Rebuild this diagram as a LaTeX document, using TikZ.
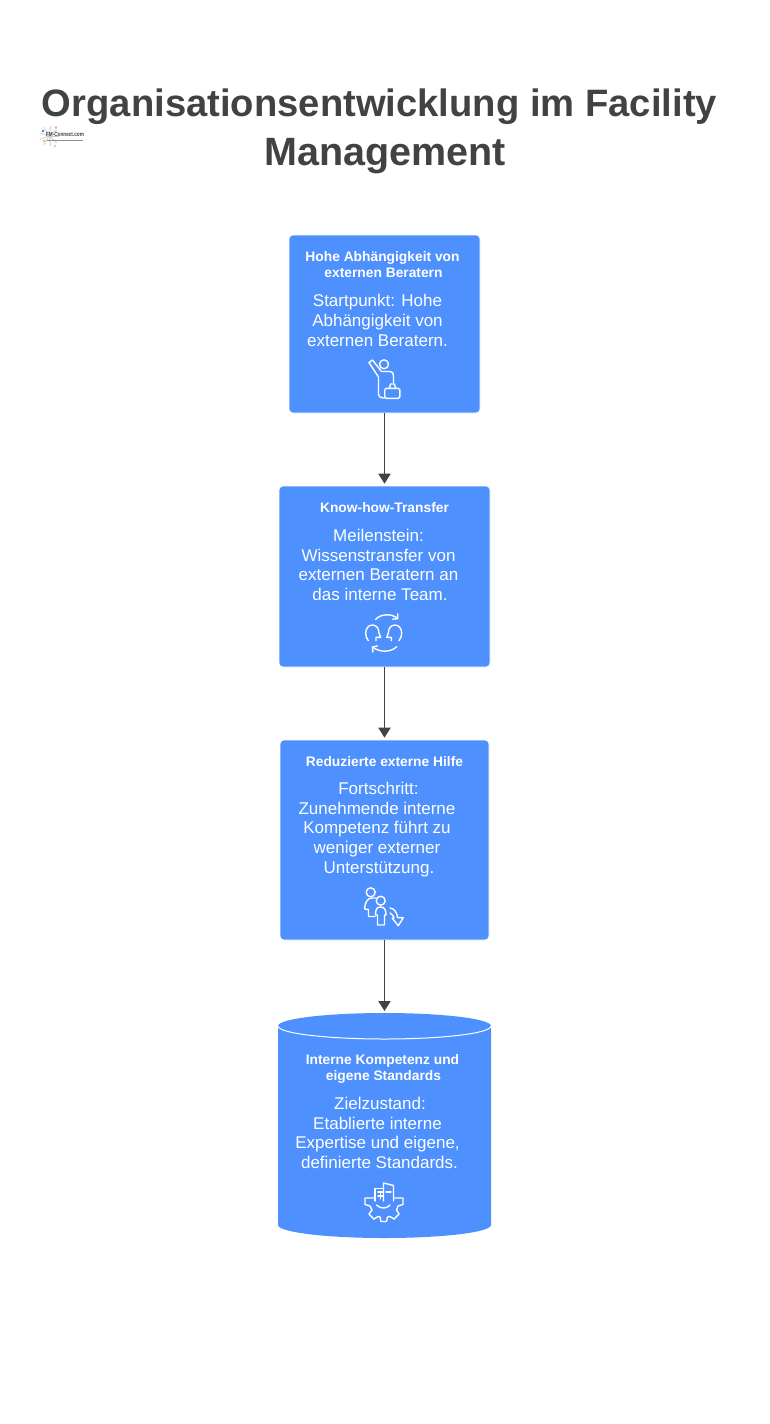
\documentclass[tikz,border=0pt]{standalone}
\usepackage{fontspec}
\setmainfont{Liberation Sans}
\newfontfamily\logofont[FakeStretch=0.78]{Liberation Sans}
\usetikzlibrary{arrows.meta}
\definecolor{boxblue}{HTML}{4D90FE}
\definecolor{inkgrey}{HTML}{424242}
\tikzset{
	box/.style={draw=white,line width=0.6pt,fill=boxblue,rounded corners=4pt},
	heading/.style={text=white,font=\fontsize{13.8}{16}\selectfont\bfseries,align=center},
	body/.style={text=white,font=\fontsize{17}{19.6}\selectfont,align=center},
	link/.style={draw=inkgrey,line width=1.9pt,shorten >=2pt,-{Triangle[length=10pt,width=12pt]}},
	icon/.style={draw=white,line width=1.4pt,line cap=round,line join=round},
	spot/.style={inner sep=0pt,minimum size=2.6pt,circle}
}
\begin{document}
\begin{tikzpicture}[x=1pt,y=-1pt]
	\useasboundingbox (0,0) rectangle (769,1424);

	% title and logo
	\node[text=inkgrey,font=\fontsize{38.2}{49}\selectfont\bfseries,align=center] (title) at (385,131.5) {Organisationsentwicklung im Facility\hspace*{11pt}\\\fontsize{39.5}{49}\selectfont Management};
	\foreach \a in {0,40,...,320}
		\draw[gray!40,line width=0.8pt] (49,136) -- ++(\a:10pt);
	\node[text=inkgrey,font=\logofont\fontsize{6}{6}\selectfont\bfseries,inner sep=0pt] (logo) at (65,134.5) {FM-Connect.com};
	\draw[inkgrey!60,line width=0.7pt] (47,140) -- (83,140);
	\node[spot,fill=blue!60!white] (dotA) at (43,131) {};
	\node[spot,fill=red!40!white] (dotB) at (56,127.5) {};
	\node[spot,fill=orange!60!white] (dotC) at (44,141) {};
	\node[spot,fill=cyan!40!white] (dotD) at (55,146) {};

	% boxes
	\node[box,minimum width=191pt,minimum height=178pt] (start) at (384.5,324) {};
	\node[box,minimum width=211pt,minimum height=181pt] (transfer) at (384.5,576.5) {};
	\node[box,minimum width=209pt,minimum height=200pt] (reduced) at (384.5,840) {};
	\fill[boxblue] (278,1026) arc[start angle=180,end angle=0,x radius=106.5pt,y radius=13pt] -- (491,1225) arc[start angle=0,end angle=-180,x radius=106.5pt,y radius=13pt] -- cycle;
	\draw[white,line width=1pt] (278,1026) arc[start angle=180,end angle=360,x radius=106.5pt,y radius=13pt];
	\coordinate (target) at (384.5,1013);

	\draw[link] (start.south) -- (transfer.north);
	\draw[link] (transfer.south) -- (reduced.north);
	\draw[link] (reduced.south) -- (target);

	% texts
	\node[heading] (h1) at (383.5,265) {Hohe Abhängigkeit von\hspace*{2pt}\\externen Beratern};
	\node[body] (b1) at (377.5,320.5) {Startpunkt: Hohe\\Abhängigkeit von\\externen Beratern.};
	\node[heading] (h2) at (384.5,507.5) {Know-how-Transfer};
	\node[body] (b2) at (378.5,565) {Meilenstein:\\Wissenstransfer von\\externen Beratern an\\\hspace*{3pt}das interne Team.};
	\node[heading] (h3) at (384.5,761.5) {Reduzierte externe Hilfe};
	\node[body] (b3) at (377,829.5) {\hspace*{3pt}Fortschritt:\\Zunehmende interne\\Kompetenz führt zu\\weniger externer\\\hspace*{4pt}Unterstützung.};
	\node[heading] (h4) at (383.5,1069) {Interne Kompetenz und\hspace*{2pt}\\eigene Standards};
	\node[body] (b4) at (377.5,1133) {\hspace*{5pt}Zielzustand:\\Etablierte interne\\Expertise und eigene,\\\hspace*{4pt}definierte Standards.};

	% icon traveller
	\draw[icon] (384,364.3) circle (4.5pt);
	\draw[icon] (369,362.5) -- (372.5,360) -- (381.5,371.5) -- (390,371.5) .. controls (392.5,371.5) and (393.5,373) .. (393.5,376) -- (393.5,383);
	\draw[icon] (369,362.5) -- (378.5,377) -- (378.5,393) .. controls (378.5,396.5) and (380,398) .. (383,398) -- (384.5,398);
	\draw[icon,rounded corners=1.5pt] (384.7,388.3) rectangle (399.8,398.3);
	\draw[icon] (389.5,388.3) -- (390.5,384) -- (394.5,384) -- (395.5,388.3);

	% icon exchange
	\draw[icon,-{Straight Barb[length=3.5pt,width=8pt]}] (375.7,619.3) .. controls (381,613.5) and (392,613.5) .. (398.3,619.3);
	\draw[icon,-{Straight Barb[length=3.5pt,width=8pt]}] (396.7,646.7) .. controls (391,652.5) and (380,652.5) .. (371.7,646.5);
	\draw[icon] (368.3,640.7) .. controls (366.5,638) and (365.7,636) .. (365.7,633.3) .. controls (365.7,628.5) and (368.5,625) .. (372.3,625) .. controls (376.5,625) and (379,628.5) .. (379,633.3) -- (380.7,637.3) -- (376,637.3) -- (376,640.7);
	\draw[icon] (399,640.7) .. controls (400.8,638) and (401.7,636) .. (401.7,633.3) .. controls (401.7,628.5) and (398.8,625) .. (395,625) .. controls (390.8,625) and (388.3,628.5) .. (388.3,633.3) -- (386.7,637.3) -- (391.3,637.3) -- (391.3,640.7);

	% icon people
	\draw[icon] (370.7,892.3) circle (4.5pt);
	\draw[icon] (380.7,900.7) circle (4.5pt);
	\draw[icon] (376,898) -- (372,898) .. controls (367,898) and (365,903) .. (364.5,909) -- (368.5,909.5) -- (368.5,916.5) -- (375,916.5);
	\draw[icon] (375.5,915) .. controls (375.5,909) and (377,907) .. (380.5,907) .. controls (384,907) and (386,909) .. (386,915) -- (384.5,915) -- (384.5,925) -- (377.5,925) -- (377.5,915) -- cycle;
	\draw[icon] (390,908) .. controls (394,908.5) and (397,912) .. (397.5,917.5) -- (403.3,917.7) -- (398.3,925.7) -- (392.3,918.3) -- (394,918) .. controls (393.5,916) and (392,914) .. (390,913);

	% icon gear
	\draw[icon] (375,1198) -- (365,1198) -- (365,1204.5) -- (370,1206) -- (372,1210) -- (369,1214) -- (374,1219) -- (378,1216.5) -- (380,1217) -- (381,1221.5) -- (386.5,1221.5) -- (387.5,1217) -- (390,1216.5) -- (394,1219) -- (399,1214) -- (396.5,1210) -- (398,1206) -- (403,1204.5) -- (403,1198) -- (394,1198);
	\draw[icon] (376.5,1205) .. controls (380,1209) and (387,1209) .. (390,1205);
	\draw[icon] (375,1201) -- (375,1188.5) -- (383.5,1188.5);
	\draw[icon] (383.5,1201) -- (383.5,1183) -- (393.5,1185.5) -- (393.5,1201);
	\draw[icon] (378,1192) -- (383,1192) (378,1196) -- (383,1196) (380.5,1192) -- (380.5,1199);
	\draw[icon] (386,1192) -- (391,1192);
\end{tikzpicture}
\end{document}
